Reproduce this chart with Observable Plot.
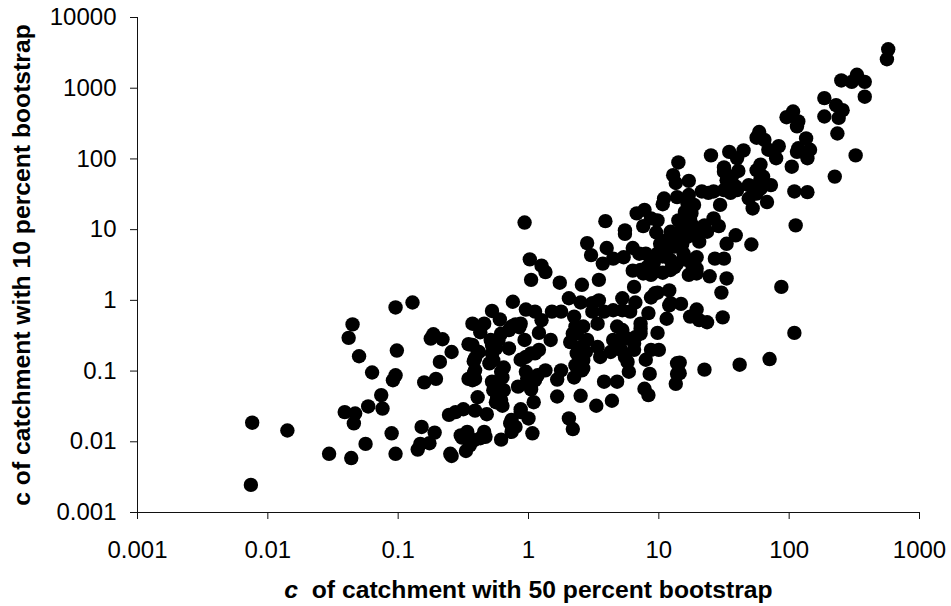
<!DOCTYPE html>
<html>
<head>
<meta charset="utf-8">
<script src="https://cdn.jsdelivr.net/npm/d3@7"></script>
<script src="https://cdn.jsdelivr.net/npm/@observablehq/plot@0.6"></script>
<style>
html,body{margin:0;padding:0;background:#fff}
svg{display:block}
</style>
</head>
<body>
<div id="chart"></div>
<script>
// Decade readings (log10 of c) taken off the two logarithmic axes, one pair per catchment.
const logC50 = [
-2.13,-2.12,-1.85,-1.53,-1.36,-1.25,-1.34,-1.33,-1.41,-1.23,-1.12,-1.13,-1.20,-1.30,-1.38,-1.35,-1.02,-0.89,-1.01,-1.02,
-1.04,-1.05,-1.02,-0.85,-0.83,-0.76,-0.72,-0.82,-0.80,-0.71,-0.68,-0.59,-0.75,-0.73,-0.66,-0.61,-0.60,-0.59,
-0.12,-0.02,0.05,0.18,0.25,0.10,0.31,0.35,0.40,0.49,0.54,0.49,0.58,0.65,0.72,0.72,0.78,0.82,0.92,0.94,1.06,1.09,
-0.28,-0.22,-0.43,-0.34,-0.37,-0.10,-0.07,-0.15,-0.21,-0.29,0.08,-0.03,0.17,0.53,0.37,0.32,0.42,0.72,0.86,0.82,0.99,
-0.46,-0.39,-0.15,-0.28,0.08,0.02,-0.06,0.53,0.45,0.65,0.71,0.81,0.94,1.00,0.90,0.37,0.42,0.55,0.76,
-0.42,-0.30,-0.19,-0.41,-0.02,0.13,0.25,0.22,0.35,0.41,0.77,0.93,1.14,1.14,1.13,-0.43,-0.20,-0.28,0.05,0.58,0.68,0.89,0.92,
-0.08,0.02,-0.39,-0.24,0.22,0.40,0.64,0.52,0.04,-0.20,-0.06,-0.56,-0.50,-0.41,-0.32,-0.13,0.00,0.31,0.34,-0.13,0.03,-0.21,-0.33,-0.47,-0.51,-0.42,-0.48,
-0.03,0.01,0.02,0.10,0.13,0.24,0.41,0.54,0.45,0.48,0.59,0.74,0.74,0.60,0.57,0.65,0.73,0.80,0.89,0.83,0.88,0.94,0.99,0.98,
1.04,1.03,1.14,1.11,1.13,1.15,1.23,1.23,1.33,1.38,1.42,1.24,1.25,1.47,1.40,1.50,1.55,1.60,1.55,1.42,1.46,1.52,1.59,
1.15,1.09,1.22,1.33,1.37,1.14,1.24,1.31,1.04,1.18,1.19,1.29,1.43,1.50,0.90,0.85,1.03,0.96,1.14,0.80,0.88,1.03,1.23,1.29,1.39,1.52,1.48,0.81,0.97,1.08,
2.76,2.75,2.40,2.48,2.52,2.58,2.58,2.27,2.36,2.41,2.27,2.38,2.37,2.51,2.35,2.03,1.98,2.07,2.06,1.77,1.75,1.81,1.92,1.84,1.90,
2.13,2.07,2.06,2.16,2.14,2.02,1.65,1.54,1.60,1.50,1.78,1.75,1.61,1.78,1.69,1.86,1.78,2.04,2.14,1.69,1.83,1.72,2.05,
1.71,1.49,1.94,2.04,1.85,1.62,1.35,1.16,1.16,1.37,1.29,1.24,1.31,1.17,1.08,0.99,
0.36,0.34,0.40,0.44,0.39,0.42,0.36,0.68,0.74,0.72,0.68,0.63,0.74,0.81,0.86,0.86,
-0.28,-0.23,-0.27,-0.25,-0.42,-0.41,-0.46,-0.21,-0.23,-0.27,-0.19,-0.25,-0.21,-0.01,0.07,0.02,
-0.06,-0.13,-0.37,0.05,-0.02,-0.43,-0.41,-0.38,-0.10,-0.14,-0.34,-0.37,-0.46,-0.52,-0.45,-0.06,
1.06,1.12,1.06,1.01,0.99,0.94,1.09,1.22,1.27,1.17,1.29,1.35,1.22,1.29,1.26,1.12,1.09,0.91,0.96,0.86,0.94,1.22,1.27,1.24,1.20,
1.52,1.56,1.50,1.59,1.73,1.80,1.75,1.80
];
const logC10 = [
-2.61,-1.73,-1.84,-2.17,-2.23,-2.03,-1.74,-1.60,-1.58,-1.50,-1.53,-1.34,-1.02,-0.79,-0.53,-0.34,-0.10,-0.03,-0.71,-1.06,
-1.13,-1.88,-2.17,-2.11,-2.03,-2.02,-1.87,-1.79,-1.16,-1.11,-0.87,-0.73,-0.54,-0.48,-0.55,-1.62,-2.17,-2.20,
-0.02,-0.13,-0.16,-0.16,-0.16,-0.28,0.03,-0.23,-0.03,-0.04,0.00,-0.16,-0.16,-0.14,0.03,-0.14,-0.16,-0.03,-0.18,0.04,-0.26,-0.04,
-0.15,-0.27,-0.33,-0.33,-0.45,-0.34,-0.38,-0.42,-0.47,-0.56,-0.46,-0.56,-0.56,-0.33,-0.47,-0.59,-0.37,-0.42,-0.40,-0.52,-0.46,
-0.62,-0.73,-0.68,-0.75,-0.70,-0.75,-0.84,-0.66,-0.56,-0.56,-0.70,-0.70,-0.70,-0.70,-0.84,-0.75,-0.85,-0.80,-0.87,
-0.86,-0.89,-0.95,-0.99,-1.01,-0.99,-0.99,-1.12,-1.09,-0.99,-1.01,-1.04,-0.89,-1.04,-1.18,-1.13,-1.09,-1.15,-1.13,-1.15,-1.15,-1.25,-1.34,
-1.22,-1.26,-1.37,-1.37,-1.36,-1.35,-1.42,-1.49,-1.44,-1.49,-1.54,-1.58,-1.54,-1.56,-1.61,-1.69,-1.67,-1.67,-1.82,-1.86,-1.88,-1.97,-1.93,-1.86,-1.94,-1.98,-2.13,
1.10,0.58,0.29,0.49,0.40,0.25,0.22,0.29,0.81,0.64,1.12,0.99,0.94,0.74,0.52,0.59,0.61,0.74,1.28,1.23,1.05,1.16,1.13,0.96,
1.44,1.36,1.46,1.77,1.66,1.95,1.69,1.49,1.54,1.52,1.54,1.32,1.23,1.35,2.05,1.88,1.61,1.56,1.52,1.16,1.05,0.80,0.92,
1.13,0.97,1.04,0.99,0.97,0.90,0.92,0.83,0.76,0.80,0.66,0.61,0.59,0.59,0.66,0.66,0.62,0.52,0.52,0.42,0.38,0.39,0.36,0.45,0.34,0.31,0.11,0.19,0.10,0.14,
3.55,3.41,3.11,3.09,3.19,3.09,2.88,2.86,2.76,2.69,2.60,2.58,2.36,2.05,1.75,2.67,2.59,2.53,2.46,2.38,2.30,2.27,2.18,2.13,2.01,
2.29,2.15,2.10,2.13,2.01,1.89,2.12,2.10,2.01,1.82,1.92,1.84,1.83,1.72,1.63,1.63,1.58,1.54,1.53,1.44,1.39,1.30,1.06,
0.79,-0.24,0.19,-0.46,-0.83,-0.91,-0.98,-0.88,-1.03,-0.31,-0.13,-0.23,-0.28,-0.05,-0.07,0.11,
-0.37,-0.47,-0.66,-0.73,-0.96,-0.96,-0.92,-0.37,-0.52,-0.56,-0.66,-0.73,-0.80,-0.61,-0.47,-0.33,
-0.63,-0.56,-0.85,-0.68,-1.03,-1.11,-1.11,-1.01,-1.25,-1.27,-1.27,-1.44,-1.41,-1.11,-1.06,-1.18,
-0.33,-0.37,-0.40,-0.75,-0.80,-0.63,-0.82,-0.73,-1.79,-1.74,-1.86,-1.95,-1.93,-1.91,-2.05,-1.58,
0.85,0.76,0.71,0.80,0.66,0.57,0.57,0.90,1.04,0.99,0.95,1.06,0.57,0.38,0.47,0.47,0.43,0.47,0.40,0.43,0.36,1.37,1.35,1.13,1.25,
1.70,1.75,1.56,1.61,1.61,1.75,1.51,1.63
];
const xTickValues = [0.001, 0.01, 0.1, 1, 10, 100, 1000];
const yTickValues = [0.001, 0.01, 0.1, 1, 10, 100, 1000, 10000];
const xTitle = "c  of catchment with 50 percent bootstrap";
const yTitle = "c of catchment with 10 percent bootstrap";

const catchments = logC50.map((v, i) => ({c50: 10 ** v, c10: 10 ** logC10[i]}));

const font = "'Liberation Sans', Arial, sans-serif";
const chart = Plot.plot({
  width: 951,
  height: 606,
  marginLeft: 137,
  marginRight: 32,
  marginTop: 17,
  marginBottom: 94,
  style: {fontFamily: font, background: "#fff", color: "#000", overflow: "visible"},
  x: {type: "log", domain: [0.001, 1000]},
  y: {type: "log", domain: [0.001, 10000]},
  marks: [
    Plot.dot(catchments, {x: "c50", y: "c10", r: 7.2, fill: "#000", stroke: "none"}),
    Plot.ruleX([0.001], {stroke: "#111", strokeWidth: 1}),
    Plot.ruleY([0.001], {stroke: "#111", strokeWidth: 1}),
    Plot.axisX({ticks: xTickValues, tickFormat: String, tickSize: 7, tickPadding: 21, fontSize: 24, stroke: "#111", strokeOpacity: 1, label: null}),
    Plot.axisY({ticks: yTickValues, tickFormat: String, tickSize: 7, tickPadding: 14, fontSize: 24, stroke: "#111", strokeOpacity: 1, label: null}),
    Plot.text([xTitle], {frameAnchor: "bottom", dy: 85, text: d => d, fontSize: 24.7, fontWeight: "bold", fill: "#000"}),
    Plot.text([yTitle], {frameAnchor: "left", textAnchor: "middle", dx: -115, rotate: -90, text: d => d, fontSize: 24.7, fontWeight: "bold", fill: "#000"})
  ]
});
// The leading "c" of the x title is set in italic.
chart.querySelectorAll("text").forEach(t => {
  const s = t.textContent;
  if (s === xTitle) {
    t.textContent = "";
    t.style.whiteSpace = "pre";
    const a = document.createElementNS("http://www.w3.org/2000/svg", "tspan");
    a.setAttribute("font-style", "italic");
    a.textContent = "c";
    t.appendChild(a);
    const b = document.createElementNS("http://www.w3.org/2000/svg", "tspan");
    b.textContent = s.slice(1);
    t.appendChild(b);
  }
});
document.getElementById("chart").appendChild(chart);
</script>
</body>
</html>
